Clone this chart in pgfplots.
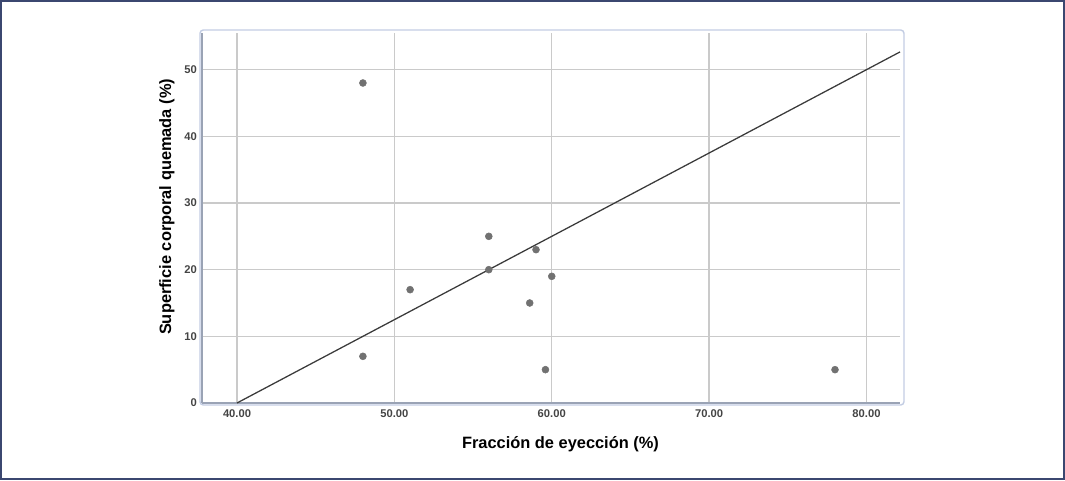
\documentclass[border=0pt]{standalone}
\usepackage{fontspec}
\setmainfont{Liberation Sans}
\usepackage{pgfplots}
\pgfplotsset{compat=1.18}
\definecolor{outerborder}{HTML}{3B4770}
\definecolor{framecol}{HTML}{C3CDE3}
\definecolor{gridcol}{HTML}{CACACA}
\definecolor{axiscol}{HTML}{9AA3B5}
\definecolor{ptcol}{HTML}{717171}
\definecolor{linecol}{HTML}{3A3A3A}
\definecolor{tickcol}{HTML}{444444}
\begin{document}
\begin{tikzpicture}
\draw[outerborder, line width=1.5pt] (0.75pt,0.75pt) rectangle (798pt,359.25pt);
\draw[framecol, line width=1.1pt, rounded corners=2.5pt] (150pt,56.25pt) rectangle (678pt,337.5pt);
\begin{axis}[
  at={(151.5pt,57.75pt)}, anchor=south west,
  scale only axis, width=523.5pt, height=277.5pt,
  xmin=37.775, xmax=82.13, ymin=0, ymax=55.5,
  axis x line*=bottom, axis y line*=left,
  axis line style={axiscol, line width=0.9pt, -},
  xtick={40,50,60,70,80},
  xticklabels={40.00,50.00,60.00,70.00,80.00},
  ytick={0,10,20,30,40,50},
  major tick length=0pt,
  grid=major,
  major grid style={gridcol, line width=1.1pt},
  tick label style={font=\fontsize{8.4}{10}\selectfont\bfseries, text=tickcol},
  /pgf/number format/assume math mode=true,
  xticklabel style={anchor=north, inner sep=0pt, yshift=-5pt},
  yticklabel style={anchor=east, inner sep=0pt, xshift=-3.75pt},
  xlabel={Fracción de eyección (\%)},
  ylabel={Superficie corporal quemada (\%)},
  label style={font=\fontsize{12.3}{14}\selectfont\bfseries},
  xlabel style={at={(axis description cs:0.5136,-0.123)}, anchor=base},
  ylabel style={at={(axis description cs:-0.0444,0.53)}, anchor=base},
  clip=false,
]
\addplot[only marks, mark=*, mark size=2.6pt, draw=ptcol, fill=ptcol, mark options={draw=ptcol, fill=ptcol}]
  coordinates {(48,48) (48,7) (51,17) (56,25) (56,20) (59,23) (60,19) (58.6,15) (59.6,5) (78,5)};
\addplot[linecol, line width=0.95pt, no marks] coordinates {(40,0) (82.13,52.66)};
\end{axis}
\end{tikzpicture}
\end{document}
